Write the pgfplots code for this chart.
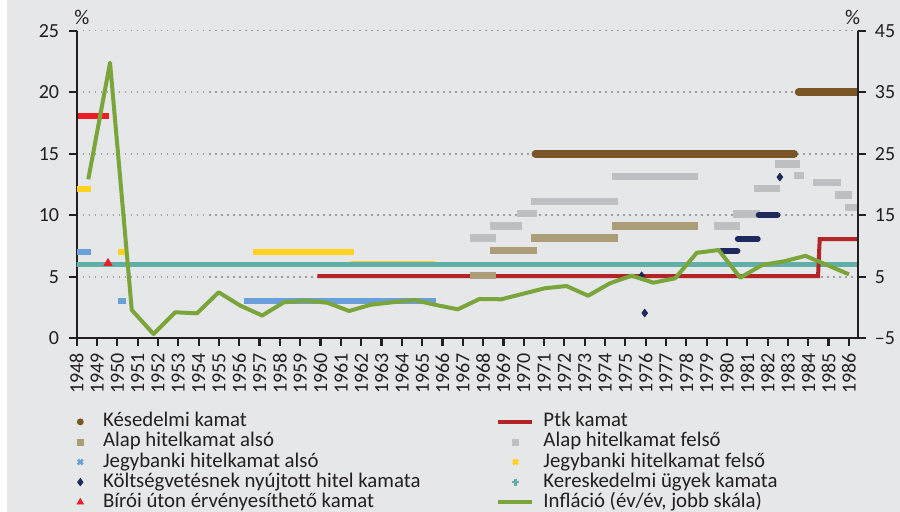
\documentclass[border=0pt]{standalone}
\usepackage{fontspec}
\setmainfont{Carlito}
\usepackage{pgfplots}
\pgfplotsset{compat=1.18}
\definecolor{bgc}{HTML}{E6E7E8}
\definecolor{axiscol}{HTML}{231F20}
\definecolor{gridcol}{HTML}{9FA0A3}
\definecolor{brownc}{HTML}{7A5626}
\definecolor{tanc}{HTML}{AA9D78}
\definecolor{grayc}{HTML}{BDBFC3}
\definecolor{bluec}{HTML}{6A9FD9}
\definecolor{yellowc}{HTML}{FFD21F}
\definecolor{navyc}{HTML}{1E2A5E}
\definecolor{tealc}{HTML}{62AFAA}
\definecolor{redtri}{HTML}{EE1C25}
\definecolor{ptkred}{HTML}{B22428}
\definecolor{greenc}{HTML}{7AA53A}
\pgfplotsset{
  legline/.style={legend image code/.code={\path (0pt,-1pt) (17pt,1pt); \draw[##1] (0pt,0pt) -- (17pt,0pt);}},
  legmark/.style={legend image code/.code={\path (0pt,-1pt) (17pt,1pt); \draw[##1] plot coordinates {(8.5pt,0pt)};}},
  mylegend/.style={legend cell align=left,
    legend style={draw=none, fill=none, inner sep=0pt, outer sep=0pt, anchor=north west,
      font=\fontsize{10.4}{12}\selectfont, text=axiscol,
      nodes={inner sep=0pt, text height=7pt, text depth=2pt},
      row sep=1.05pt}},
  commonax/.style={at={(38.35pt,86.85pt)}, anchor=south west, scale only axis,
    width=390.8pt, height=153.8pt,
    /pgf/number format/assume math mode=true,
    /pgf/number format/1000 sep={},
    axis line style={line width=1.1pt, color=axiscol},
    tick style={line width=1.1pt, color=axiscol},
    tick align=outside, major tick length=3.8pt,
    ticklabel style={font=\fontsize{10}{12}\selectfont, text=axiscol}},
}
\begin{document}
\begin{tikzpicture}
\useasboundingbox (0,0) rectangle (450pt,256pt);
\fill[white] (0,0) rectangle (450pt,256pt);
\fill[bgc] (3.5pt,0) rectangle (450pt,256pt);
\begin{axis}[commonax, mylegend,
  xmin=1948, xmax=1986.46, ymin=0, ymax=25,
  axis x line*=bottom, axis y line*=left,
  xtick={1948,1949,...,1986}, ytick={0,5,...,25},
  xticklabel style={rotate=90, anchor=east},
  yticklabel style={xshift=-1.5pt},
  ymajorgrids, grid style={gridcol, line width=0.8pt, dash pattern=on 0.9pt off 2.1pt},
  unbounded coords=jump,
  legend style={at={(axis description cs:-0.0188,-0.2424)}, /tikz/every odd column/.append style={column sep=2.25pt}}]
% Jegybanki felso at 6 (hidden under teal)
\addplot[yellowc, line width=3pt, forget plot] coordinates {(1961.44,6.0) (1965.62,6.0)};
% Kereskedelmi ugyek kamata
\addplot[tealc, line width=2.6pt, forget plot] coordinates {(1947.9,6.02) (1986.6,6.02)};
% Ptk kamat
\addplot[ptkred, line width=2pt, forget plot] coordinates {(1959.84,5.05) (1984.48,5.05) (1984.56,8.05) (1986.6,8.05)};
% Jegybanki hitelkamat also
\addplot[bluec, line width=3pt, forget plot] coordinates {(1948.0,7.05) (1948.69,7.05) (1948.8,nan) (1950.05,3.05) (1950.42,3.05) (1950.5,nan) (1956.23,3.05) (1965.67,3.05)};
% Jegybanki hitelkamat felso
\addplot[yellowc, line width=3pt, forget plot] coordinates {(1948.0,12.1) (1948.69,12.1) (1948.8,nan) (1950.05,7.05) (1950.38,7.05) (1950.5,nan) (1956.69,7.05) (1961.65,7.05)};
% Alap hitelkamat felso
\addplot[grayc, line width=3.6pt, forget plot] coordinates {
(1967.35,8.15) (1968.61,8.15) (1968.62,nan)
(1968.36,9.13) (1969.92,9.13) (1969.93,nan)
(1969.67,10.13) (1970.64,10.13) (1970.65,nan)
(1970.33,11.11) (1974.64,11.11) (1974.65,nan)
(1974.35,13.17) (1978.58,13.17) (1978.6,nan)
(1979.35,9.13) (1980.63,9.13) (1980.64,nan)
(1980.30,10.1) (1981.61,10.1) (1981.62,nan)
(1981.32,12.17) (1982.59,12.17) (1982.6,nan)
(1982.35,14.16) (1983.61,14.16) (1983.62,nan)
(1983.30,13.2) (1983.79,13.2) (1983.8,nan)
(1984.23,12.63) (1985.63,12.63) (1985.64,nan)
(1985.30,11.65) (1986.15,11.65) (1986.16,nan)
(1985.79,10.65) (1986.6,10.65)};
% Alap hitelkamat also
\addplot[tanc, line width=3.6pt, forget plot] coordinates {
(1967.35,5.08) (1968.61,5.08) (1968.62,nan)
(1968.36,7.16) (1970.64,7.16) (1970.65,nan)
(1970.33,8.15) (1974.64,8.15) (1974.65,nan)
(1974.35,9.13) (1978.58,9.13)};
% Koltsegvetesnek nyujtott hitel kamata
\addplot[navyc, line width=3pt, line cap=round, forget plot] coordinates {
(1979.71,7.09) (1980.51,7.09) (1980.52,nan)
(1980.53,8.07) (1981.51,8.07) (1981.52,nan)
(1981.56,10.02) (1982.48,10.02)};
\addplot[navyc, only marks, mark=diamond*, mark size=1.9pt, forget plot] coordinates {(1975.8,5.08) (1975.95,2.05) (1982.6,13.1)};
% Biroi uton ervenyesitheto kamat
\addplot[redtri, line width=3pt, forget plot] coordinates {(1948.08,18.07) (1949.59,18.07)};
\addplot[redtri, only marks, mark=triangle*, mark size=2.3pt, forget plot] coordinates {(1949.54,6.1)};
% Kesedelmi kamat
\addplot[brownc, line width=4pt, line cap=round, forget plot] coordinates {
(1970.58,15.0) (1983.3,15.0) (1983.4,nan)
(1983.53,20.0) (1986.8,20.0)};
% legend (left column)
\addlegendimage{legmark, mark=*, brownc, mark size=1.5pt}
\addlegendentry{Késedelmi kamat}
\addlegendimage{legmark, mark=square*, tanc, mark size=1.5pt}
\addlegendentry{Alap hitelkamat alsó}
\addlegendimage{legmark, mark=x, bluec, mark size=1.7pt, line width=1.3pt}
\addlegendentry{Jegybanki hitelkamat alsó}
\addlegendimage{legmark, mark=diamond*, navyc, mark size=1.8pt}
\addlegendentry{Költségvetésnek nyújtott hitel kamata}
\addlegendimage{legmark, mark=triangle*, redtri, mark size=1.8pt}
\addlegendentry{Bírói úton érvényesíthető kamat}
\end{axis}
\begin{axis}[commonax, mylegend,
  xmin=-0.534, xmax=35.43, ymin=-5, ymax=45,
  axis x line=none, axis y line*=right,
  ytick={-5,5,15,25,35,45}, yticklabels={–5,5,15,25,35,45},
  yticklabel style={xshift=1pt},
  legend style={at={(axis description cs:0.5371,-0.2424)}, /tikz/every odd column/.append style={column sep=4.5pt}}]
\addlegendimage{legline, ptkred, line width=2pt}
\addlegendentry{Ptk kamat}
\addlegendimage{legmark, mark=square*, grayc, mark size=1.5pt}
\addlegendentry{Alap hitelkamat felső}
\addlegendimage{legmark, mark=x, yellowc, mark size=1.7pt, line width=1.3pt}
\addlegendentry{Jegybanki hitelkamat felső}
\addlegendimage{legmark, mark=+, tealc, mark size=1.7pt, line width=1.3pt}
\addlegendentry{Kereskedelmi ügyek kamata}
\addlegendimage{legline, greenc, line width=2pt}
\addlegendentry{Infláció (év/év, jobb skála)}
% Inflacio (right scale)
\addplot[greenc, line width=2pt, line join=round, forget plot] table {
k r
0 20.85
1 39.8
2 -0.4
3 -4.3
4 -0.77
5 -0.94
6 2.48
7 0.3
8 -1.3
9 0.85
10 1.11
11 0.78
12 -0.56
13 0.46
14 0.85
15 1.22
16 0.41
17 -0.29
18 1.39
19 1.34
20 2.23
21 3.13
22 3.5
23 1.92
24 3.94
25 5.18
26 4.04
27 4.75
28 8.9
29 9.35
30 4.85
31 6.91
32 7.5
33 8.4
34 6.9
35 5.4
};
\end{axis}
\node[font=\fontsize{10.5}{12}\selectfont, text=axiscol] at (41pt,247.2pt) {\%};
\node[font=\fontsize{10.5}{12}\selectfont, text=axiscol] at (426.3pt,247.2pt) {\%};
\end{tikzpicture}
\end{document}
